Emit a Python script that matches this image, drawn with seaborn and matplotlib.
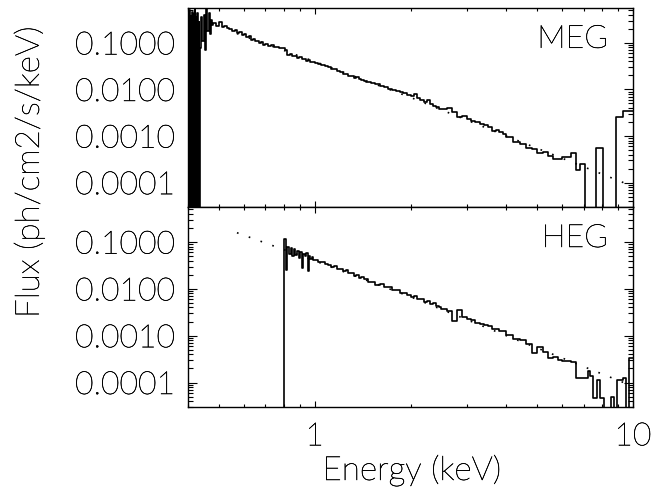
import numpy as np
import pandas as pd
import matplotlib
matplotlib.use("Agg")
import matplotlib.pyplot as plt
import matplotlib.patheffects as pe
from matplotlib.ticker import FixedLocator, FixedFormatter, LogLocator, NullFormatter
import seaborn as sns

EMPTY = float("-inf")  # bin with no counts (log10 of zero flux)

# ---------------- MEG spectrum: lower bin edges (keV) and log10 flux ----------------
meg_bin_lo = [
    0.400, 0.402, 0.404, 0.406, 0.408, 0.410, 0.412, 0.414, 0.416, 0.418,
    0.420, 0.422, 0.424, 0.426, 0.428, 0.430, 0.432, 0.434,
    0.436, 0.440, 0.444, 0.448, 0.452, 0.456, 0.460, 0.464, 0.468, 0.472, 0.476,
    0.48, 0.49, 0.50, 0.51, 0.52, 0.53, 0.54, 0.55, 0.56, 0.57, 0.58,
    0.59, 0.60, 0.61, 0.62, 0.63, 0.64, 0.65, 0.66, 0.67, 0.68, 0.69,
    0.700, 0.715, 0.730, 0.745, 0.760, 0.775, 0.790, 0.805, 0.820, 0.835,
    0.850, 0.865, 0.880, 0.895, 0.910, 0.925, 0.940, 0.955, 0.970, 0.985,
    1.000, 1.025, 1.050, 1.075, 1.100, 1.125, 1.150, 1.175, 1.200, 1.225,
    1.250, 1.275, 1.300, 1.325, 1.350, 1.375, 1.400, 1.425, 1.450, 1.475,
    1.50, 1.55, 1.60, 1.65, 1.70, 1.75, 1.80, 1.85, 1.90, 1.95,
    2.00, 2.05, 2.10, 2.15, 2.20, 2.25, 2.30, 2.35, 2.40, 2.45,
    2.5, 2.6, 2.7, 2.8, 2.9, 3.0, 3.1, 3.2, 3.3, 3.4, 3.5, 3.6, 3.7, 3.8, 3.9,
    4.0, 4.2, 4.4, 4.6, 4.8, 5.0, 5.2, 5.4, 5.6, 5.8, 6.0, 6.2, 6.4, 6.6, 6.8,
    7.06, 7.66, 8.04, 8.83, 9.29,
]
meg_hi_edge = 10.0
meg_log_flux = [
    -0.35, EMPTY, -0.30, EMPTY, -0.42, EMPTY, -0.33, EMPTY, -0.38, EMPTY,
    -0.28, EMPTY, -0.45, EMPTY, -0.36, EMPTY, -0.55, EMPTY,
    -1.10, -0.45, -0.95, -0.40, -1.15, -0.28, -0.75, -0.35, -0.80, -0.50, -0.62,
    -0.58, -0.63, -0.55, -0.66, -0.63, -0.69, -0.71, -0.75, -0.73, -0.79, -0.77,
    -0.83, -0.81, -0.87, -0.86, -0.93, -0.91, -0.97, -0.96, -1.01, -0.99, -1.05,
    -1.03, -1.06, -1.05, -1.09, -1.08, -1.11, -1.12, -1.15, -1.26, -1.24,
    -1.29, -1.28, -1.32, -1.31, -1.35, -1.35, -1.38, -1.37, -1.41, -1.41,
    -1.43, -1.45, -1.47, -1.50, -1.52, -1.57, -1.56, -1.61, -1.63, -1.66,
    -1.66, -1.71, -1.72, -1.75, -1.74, -1.78, -1.80, -1.81, -1.84, -1.85,
    -1.87, -1.89, -1.93, -1.95, -1.98, -2.01, -2.03, -2.06, -2.08, -2.12,
    -2.14, -2.09, -2.18, -2.23, -2.27, -2.23, -2.31, -2.35, -2.37, -2.41,
    -2.43, -2.39, -2.48, -2.59, -2.58, -2.64, -2.67, -2.70, -2.74, -2.76,
    -2.81, -2.89, -2.88, -2.92, -2.95,
    -3.03, -3.12, -3.18, -3.25, -3.28, -3.37, -3.35, -3.42, -3.50, -3.50,
    -3.46, -3.44, -3.36, -3.72, -3.61,
    EMPTY, -3.25, EMPTY, -2.60, -2.47,
]

# ---------------- HEG spectrum: lower bin edges (keV) and log10 flux ----------------
heg_bin_lo = [
    0.79,
    0.80, 0.81, 0.82, 0.83, 0.84, 0.85, 0.86, 0.87, 0.88, 0.89,
    0.90, 0.91, 0.92, 0.93, 0.94, 0.95, 0.96, 0.97, 0.98, 0.99,
    1.000, 1.025, 1.050, 1.075, 1.100, 1.125, 1.150, 1.175, 1.200, 1.225,
    1.250, 1.275, 1.300, 1.325, 1.350, 1.375, 1.400, 1.425, 1.450, 1.475,
    1.50, 1.55, 1.60, 1.65, 1.70, 1.75, 1.80, 1.85, 1.90, 1.95,
    2.00, 2.05, 2.10, 2.15, 2.20, 2.25, 2.30, 2.35, 2.40, 2.45,
    2.5, 2.6, 2.7, 2.8, 2.9, 3.0, 3.1, 3.2, 3.3, 3.4, 3.5, 3.6, 3.7, 3.8, 3.9,
    4.0, 4.2, 4.4, 4.6, 4.8, 5.0, 5.2, 5.4, 5.6, 5.8, 6.0, 6.2, 6.4,
    6.6, 7.2, 7.35, 7.5, 7.7, 7.9, 8.1, 8.5, 8.7, 8.9, 9.3, 9.5, 9.7,
]
heg_hi_edge = 10.0
heg_log_flux = [
    EMPTY,
    -0.94, -1.60, -1.10, -1.25, -1.12, -1.30, -1.14, -1.28, -1.20, -1.35,
    -1.22, -1.55, -1.25, -1.30, -1.24, -1.62, -1.30, -1.36, -1.33, -1.38,
    -1.39, -1.43, -1.42, -1.47, -1.48, -1.53, -1.51, -1.58, -1.57, -1.62,
    -1.60, -1.67, -1.66, -1.72, -1.70, -1.76, -1.75, -1.80, -1.80, -1.85,
    -1.85, -1.91, -1.90, -1.97, -1.96, -2.03, -2.02, -2.09, -2.08, -2.14,
    -2.17, -2.16, -2.22, -2.21, -2.28, -2.25, -2.33, -2.31, -2.37, -2.38,
    -2.42, -2.47, -2.68, -2.45, -2.60, -2.64, -2.66, -2.72, -2.74, -2.77,
    -2.80, -2.85, -2.86, -2.89, -2.90,
    -2.98, -3.08, -3.10, -3.18, -3.38, -3.25, -3.35, -3.48, -3.45, -3.52,
    -3.55, -3.54, -3.56,
    -3.91, -3.76, -3.86, -4.34, -3.95, -4.34, EMPTY, -4.30, EMPTY, -3.94,
    -3.91, EMPTY, -3.48,
]

# Absorbed power-law model (dotted): energies in keV, flux in ph/cm2/s/keV
model_energy = [0.57, 1.0, 2.0, 4.0, 10.0]
model_flux = [0.158, 0.0398, 0.00676, 0.00100, 8.3e-5]

panel_names = ["MEG", "HEG"]
y_tick_values = [1e-4, 1e-3, 1e-2, 1e-1]
y_tick_labels = ["0.0001", "0.0010", "0.0100", "0.1000"]
x_tick_values = [1, 10]
x_tick_labels = ["1", "10"]


def step_frame(bin_lo, hi_edge, log_flux):
    """Histogram outline table: bin edges with each bin's flux (last repeated)."""
    flux = np.power(10.0, np.asarray(log_flux, dtype=float))
    flux = np.where(flux > 0, flux, 1e-12)  # empty bins drop below the axis
    return pd.DataFrame({
        "energy": list(bin_lo) + [hi_edge],
        "flux": list(flux) + [flux[-1]],
    })


sns.set_theme(style="ticks")
plt.rcParams["font.family"] = ["Lato", "DejaVu Sans"]
plt.rcParams["font.weight"] = "light"
plt.rcParams["text.color"] = "black"
plt.rcParams["xtick.color"] = "black"
plt.rcParams["ytick.color"] = "black"
plt.rcParams["axes.linewidth"] = 1.0
plt.rcParams["axes.edgecolor"] = "black"

# thin light glyphs, given a hairline outline so they read as solid black
INK = [pe.withStroke(linewidth=0.35, foreground="black")]

W, H = 654, 498
fig = plt.figure(figsize=(W / 100, H / 100), dpi=100)
ax_top = fig.add_axes([188 / W, 1 - 207 / H, 445 / W, 199 / H])
ax_bot = fig.add_axes([188 / W, 1 - 407 / H, 445 / W, 200 / H])

model_df = pd.DataFrame({"energy": model_energy, "flux": model_flux})
spectra = [
    step_frame(meg_bin_lo, meg_hi_edge, meg_log_flux),
    step_frame(heg_bin_lo, heg_hi_edge, heg_log_flux),
]

for ax, df, name in zip([ax_top, ax_bot], spectra, panel_names):
    ax.set_xscale("log")
    ax.set_yscale("log")
    sns.lineplot(data=model_df, x="energy", y="flux", ax=ax, color="black",
                 lw=1.2, linestyle=(0, (1, 6.5)), estimator=None, sort=False,
                 zorder=2)
    sns.lineplot(data=df, x="energy", y="flux", ax=ax, color="black", lw=1.2,
                 drawstyle="steps-post", estimator=None, sort=False, zorder=3)
    ax.set_xlim(0.4, 10.0)
    ax.set_ylim(3.0e-5, 0.56)
    ax.set_xlabel("")
    ax.set_ylabel("")

    ax.yaxis.set_major_locator(FixedLocator(y_tick_values))
    ax.yaxis.set_major_formatter(FixedFormatter(y_tick_labels))
    ax.yaxis.set_minor_locator(LogLocator(base=10, subs=range(2, 10), numticks=20))
    ax.yaxis.set_minor_formatter(NullFormatter())
    ax.xaxis.set_major_locator(FixedLocator(x_tick_values))
    ax.xaxis.set_major_formatter(FixedFormatter(x_tick_labels))
    ax.xaxis.set_minor_locator(LogLocator(base=10, subs=range(2, 10), numticks=20))
    ax.xaxis.set_minor_formatter(NullFormatter())

    ax.tick_params(which="both", direction="in", top=True, right=True,
                   color="black", width=0.8)
    ax.tick_params(axis="y", which="major", length=6.5, pad=9.0, labelsize=23)
    ax.tick_params(axis="y", which="minor", length=3.5)
    ax.tick_params(axis="x", which="major", length=4.5, pad=11, labelsize=23)
    ax.tick_params(axis="x", which="minor", length=2.5)
    for lab in ax.get_xticklabels() + ax.get_yticklabels():
        lab.set_fontweight("light")
        lab.set_path_effects(INK)

    ax.text(0.944, 0.80, name, transform=ax.transAxes, ha="right",
            va="baseline", fontsize=23, fontweight="light", path_effects=INK)

ax_top.tick_params(axis="x", labelbottom=False)

fig.text(29 / W, 1 - 172 / H, "Flux (ph/cm2/s/keV)", rotation=90,
         ha="center", va="center", fontsize=24, fontweight="light",
         path_effects=INK)
fig.text(412 / W, 1 - 480 / H, "Energy (keV)", ha="center", va="baseline",
         fontsize=24, fontweight="light", path_effects=INK)

fig.savefig("out.png", dpi=100, facecolor="white")
